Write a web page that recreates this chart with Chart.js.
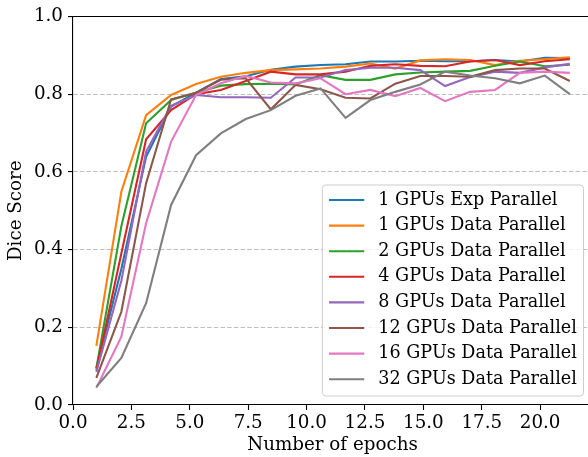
<!DOCTYPE html>
<html>
<head>
<meta charset="utf-8">
<script src="https://cdn.jsdelivr.net/npm/chart.js@4.4.0/dist/chart.umd.min.js"></script>
<style>
    html, body { margin: 0; padding: 0; background: #fff; overflow: hidden; }
    #wrap { width: 592px; height: 457px; position: relative; }
</style>
</head>
<body>
<div id="wrap"><canvas id="diceChart"></canvas></div>
<script>
// Data
const epochs = [1.0, 2.07, 3.13, 4.2, 5.27, 6.33, 7.4, 8.47, 9.53, 10.6,
                11.67, 12.73, 13.8, 14.87, 15.93, 17.0, 18.07, 19.13, 20.2, 21.27];

const seriesLabels = [
    '1 GPUs Exp Parallel', '1 GPUs Data Parallel', '2 GPUs Data Parallel', '4 GPUs Data Parallel',
    '8 GPUs Data Parallel', '12 GPUs Data Parallel', '16 GPUs Data Parallel', '32 GPUs Data Parallel'
];

const gpu1Exp   = [0.095, 0.35, 0.639, 0.768, 0.804, 0.839, 0.846, 0.863, 0.871, 0.875, 0.877, 0.884, 0.884, 0.886, 0.885, 0.885, 0.888, 0.884, 0.894, 0.893];
const gpu1Data  = [0.152, 0.549, 0.746, 0.798, 0.826, 0.845, 0.855, 0.862, 0.864, 0.866, 0.871, 0.879, 0.866, 0.887, 0.89, 0.888, 0.875, 0.886, 0.89, 0.895];
const gpu2Data  = [0.095, 0.46, 0.725, 0.785, 0.804, 0.822, 0.826, 0.827, 0.825, 0.849, 0.837, 0.837, 0.851, 0.856, 0.858, 0.86, 0.873, 0.884, 0.872, 0.876];
const gpu4Data  = [0.09, 0.39, 0.684, 0.759, 0.8, 0.811, 0.834, 0.858, 0.851, 0.851, 0.858, 0.873, 0.877, 0.873, 0.872, 0.884, 0.888, 0.875, 0.885, 0.89];
const gpu8Data  = [0.085, 0.32, 0.652, 0.77, 0.798, 0.792, 0.792, 0.791, 0.843, 0.843, 0.862, 0.868, 0.868, 0.862, 0.821, 0.844, 0.858, 0.855, 0.869, 0.878];
const gpu12Data = [0.07, 0.24, 0.571, 0.787, 0.804, 0.837, 0.841, 0.761, 0.824, 0.813, 0.791, 0.789, 0.827, 0.847, 0.847, 0.845, 0.862, 0.866, 0.866, 0.834];
const gpu16Data = [0.044, 0.176, 0.468, 0.678, 0.798, 0.828, 0.847, 0.83, 0.828, 0.841, 0.8, 0.811, 0.795, 0.816, 0.782, 0.806, 0.811, 0.855, 0.858, 0.855];
const gpu32Data = [0.047, 0.121, 0.262, 0.515, 0.643, 0.699, 0.736, 0.759, 0.796, 0.815, 0.739, 0.785, 0.806, 0.825, 0.858, 0.848, 0.841, 0.828, 0.848, 0.8];

const xTicks = [0, 2.5, 5, 7.5, 10, 12.5, 15, 17.5, 20];
const yTicks = [0, 0.2, 0.4, 0.6, 0.8, 1.0];

const allSeries = [gpu1Exp, gpu1Data, gpu2Data, gpu4Data, gpu8Data, gpu12Data, gpu16Data, gpu32Data];
const colors = ['#1f77b4', '#ff7f0e', '#2ca02c', '#d62728', '#9467bd', '#8c564b', '#e377c2', '#7f7f7f'];

const FONT = 'DejaVu Serif';
const FS = 18.3;      // axis text
const LEG_FS = 17.6;  // legend text

// top spine + legend box inside the plot (matplotlib style, lower right)
const axesExtras = {
    id: 'axesExtras',
    afterDraw(chart) {
        const ctx = chart.ctx;
        const area = chart.chartArea;

        ctx.save();
        ctx.strokeStyle = '#000';
        ctx.lineWidth = 1.1;
        ctx.beginPath();
        ctx.moveTo(area.left, area.top);
        ctx.lineTo(area.right, area.top);
        ctx.stroke();

        ctx.font = LEG_FS + 'px "' + FONT + '"';
        const sets = chart.data.datasets;
        let maxW = 0;
        sets.forEach(ds => { maxW = Math.max(maxW, ctx.measureText(ds.label).width); });

        const pad = 0.38 * LEG_FS, handle = 2 * LEG_FS, gap = 0.8 * LEG_FS;
        const rowH = 25.6;
        const boxH = 211;
        const boxW = pad + handle + gap + maxW + pad;
        const right = 583.5;
        const bottom = area.bottom - 9;
        const left = right - boxW;
        const top = bottom - boxH;

        ctx.beginPath();
        ctx.roundRect(left, top, boxW, boxH, 3.5);
        ctx.fillStyle = 'rgba(255,255,255,0.8)';
        ctx.fill();
        ctx.strokeStyle = '#cccccc';
        ctx.lineWidth = 1;
        ctx.stroke();

        ctx.textBaseline = 'middle';
        ctx.textAlign = 'left';
        sets.forEach((ds, i) => {
            const cy = top + 15 + i * rowH;
            ctx.strokeStyle = ds.borderColor;
            ctx.lineWidth = 2.1;
            ctx.beginPath();
            ctx.moveTo(left + pad, cy);
            ctx.lineTo(left + pad + handle, cy);
            ctx.stroke();
            ctx.fillStyle = '#000';
            ctx.fillText(ds.label, left + pad + handle + gap, cy);
        });
        ctx.restore();
    }
};

const ctx = document.getElementById('diceChart').getContext('2d');

new Chart(ctx, {
    type: 'line',
    data: {
        datasets: allSeries.map((vals, i) => ({
            label: seriesLabels[i],
            data: vals.map((v, j) => ({ x: epochs[j], y: v })),
            borderColor: colors[i],
            backgroundColor: colors[i],
            borderWidth: 2.1,
            pointRadius: 0,
            tension: 0,
            fill: false,
            order: allSeries.length - i
        }))
    },
    options: {
        responsive: true,
        maintainAspectRatio: false,
        animation: false,
        devicePixelRatio: 1,
        layout: { padding: { left: 0, right: 0, top: 16.5, bottom: 0 } },
        plugins: {
            legend: { display: false },
            tooltip: { enabled: false }
        },
        scales: {
            x: {
                type: 'linear',
                min: 0,
                max: 22.22,
                afterBuildTicks: s => { s.ticks = xTicks.map(v => ({ value: v })); },
                afterFit: s => { s.height = 52; },
                grid: { drawOnChartArea: false, drawTicks: true, tickLength: 5, tickColor: '#000', tickWidth: 1.1 },
                border: { display: true, color: '#000', width: 1.1 },
                ticks: {
                    padding: 2,
                    color: '#000',
                    maxRotation: 0,
                    font: { family: FONT, size: FS },
                    callback: v => v.toFixed(1)
                },
                title: {
                    display: true,
                    text: 'Number of epochs',
                    color: '#000',
                    font: { family: FONT, size: FS, lineHeight: 1.2 },
                    padding: { top: 0, bottom: 1 }
                }
            },
            y: {
                min: 0,
                max: 1,
                afterBuildTicks: s => { s.ticks = yTicks.map(v => ({ value: v })); },
                afterFit: s => { s.width = 73; },
                grid: {
                    drawOnChartArea: true,
                    color: '#bdbdbd',
                    lineWidth: 1.1,
                    drawTicks: true,
                    tickLength: 5,
                    tickColor: '#000',
                    tickWidth: 1.1
                },
                border: { display: true, color: '#000', width: 1.1, dash: [4.5, 2.2] },
                ticks: {
                    padding: 5,
                    color: '#000',
                    font: { family: FONT, size: FS },
                    callback: v => v.toFixed(1)
                },
                title: {
                    display: true,
                    text: 'Dice Score',
                    color: '#000',
                    font: { family: FONT, size: FS, lineHeight: 1.2 },
                    padding: { top: 5.5, bottom: 0 }
                }
            }
        }
    },
    plugins: [axesExtras]
});
</script>
</body>
</html>
